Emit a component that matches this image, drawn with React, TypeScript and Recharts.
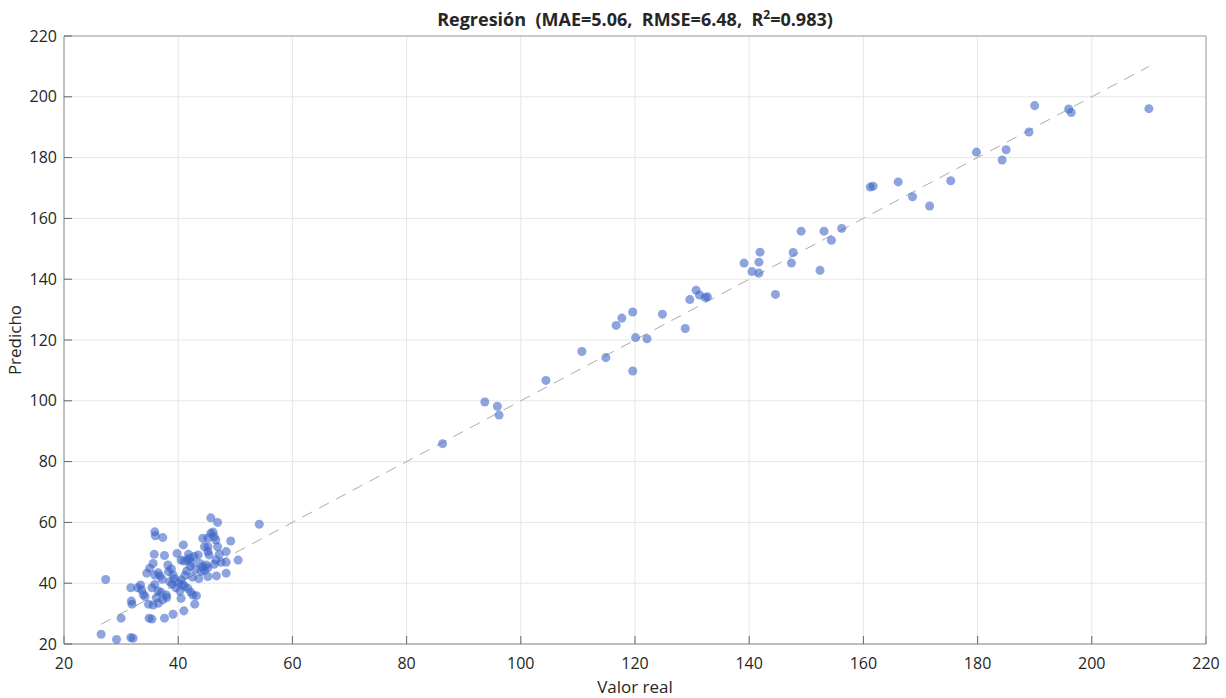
import {
  ScatterChart,
  Scatter,
  XAxis,
  YAxis,
  ZAxis,
  CartesianGrid,
  ReferenceLine,
} from "recharts";

// axis ticks (same scale both axes)
const axisTicks = [20, 40, 60, 80, 100, 120, 140, 160, 180, 200, 220];

// observed values
const realValues = [
  26.5, 27.3, 29.2, 30.0, 31.7, 32.1, 31.8, 31.9, 31.7, 32.9, 33.4, 33.6, 33.9, 34.2, 34.5, 34.8, 34.9,
  35.9, 36.0, 37.3, 35.8, 37.6, 40.9, 35.6, 35.0, 36.5, 35.9, 36.8, 38.2, 38.8, 38.3, 39.1, 40.5,
  41.0, 41.6, 42.0, 42.3, 39.8, 43.5, 44.3, 44.6, 43.8, 44.3, 44.0, 38.5, 38.9, 35.9, 35.4, 36.5,
  37.0, 40.5, 40.8, 41.1, 41.7, 42.2, 42.6, 43.2, 40.3, 40.5, 37.9, 37.3, 36.5, 35.6, 42.9, 35.4,
  37.6, 39.1, 41.0, 45.7, 46.9, 54.2, 45.7, 46.1, 46.3, 45.2, 46.6, 46.9, 49.2, 45.2, 45.2, 45.4,
  47.2, 48.4, 46.6, 47.5, 48.4, 50.5, 44.9, 45.2, 46.3, 46.7, 48.4, 45.2, 41.5, 42.1, 43.0, 42.5,
  41.2, 40.0, 39.3, 43.6, 44.6, 42.8, 41.8, 37.2, 36.2, 38.0, 39.6,
  86.3, 93.7, 95.9, 96.2, 104.4, 110.7, 114.9, 116.7, 117.7, 119.6, 119.6, 120.1, 122.1, 124.8,
  128.8, 129.6, 130.7, 131.3, 132.3, 132.7, 139.1, 140.5, 141.7, 141.7, 141.9, 144.6, 147.4,
  147.7, 149.1, 152.4, 153.1, 154.4, 156.2, 161.2, 161.7, 166.1, 168.6, 171.6, 175.3, 179.8,
  184.3, 185.0, 189.0, 190.0, 195.95, 196.4, 210.0,
];

// model predictions
const predValues = [
  23.2, 41.2, 21.5, 28.5, 22.1, 21.9, 34.1, 33.1, 38.5, 38.5, 39.4, 37.8, 36.3, 35.6, 43.3, 33.1, 28.5,
  56.9, 55.6, 55.0, 49.5, 49.1, 52.6, 46.5, 44.9, 43.4, 42.7, 42.4, 46.0, 44.7, 43.8, 42.7, 47.6,
  47.3, 47.6, 48.2, 46.9, 49.8, 49.3, 54.8, 52.0, 46.5, 45.4, 43.8, 40.5, 39.6, 39.6, 38.5, 37.4,
  37.0, 41.1, 39.6, 38.9, 38.3, 37.0, 36.1, 35.9, 37.4, 35.0, 36.1, 34.5, 33.4, 32.8, 33.1, 28.2,
  28.5, 29.8, 30.9, 61.5, 60.0, 59.4, 56.4, 56.8, 55.3, 54.8, 54.2, 52.0, 53.9, 52.0, 50.4, 49.3,
  49.5, 50.4, 47.6, 46.9, 46.9, 47.6, 46.0, 45.1, 46.2, 42.4, 43.3, 42.2, 44.0, 45.6, 44.5, 42.0,
  42.6, 40.2, 41.5, 41.5, 44.2, 48.8, 49.5, 41.3, 35.2, 35.3, 38.5,
  85.9, 99.6, 98.2, 95.3, 106.7, 116.2, 114.2, 124.8, 127.2, 129.2, 109.8, 120.8, 120.4, 128.5,
  123.8, 133.3, 136.4, 134.8, 134.0, 134.2, 145.3, 142.5, 145.6, 142.0, 148.9, 135.0, 145.3,
  148.8, 155.8, 142.9, 155.8, 152.8, 156.7, 170.3, 170.6, 172.0, 167.1, 164.1, 172.4, 181.8,
  179.2, 182.6, 188.4, 197.1, 196.0, 194.8, 196.1,
];

const points = realValues.map((real, i) => ({ real, pred: predValues[i] }));
const lineStart = Math.min(...realValues);
const lineEnd = Math.max(...realValues);

const W = 1226;
const H = 698;
const FONT = "'Open Sans', 'Noto Sans', sans-serif";
const tickStyle = { fontFamily: FONT, fontSize: 16, fill: "#262626" };
const axisColor = "#8a8a8a";

export default function App() {
  return (
    <div
      style={{
        position: "absolute",
        left: 0,
        top: 0,
        width: W,
        height: H,
        background: "#fff",
        fontFamily: FONT,
        color: "#262626",
      }}
    >
      <ScatterChart
        width={W}
        height={H}
        margin={{ top: 35, right: 19, bottom: 14, left: 24 }}
      >
        <CartesianGrid stroke="#e6e6e6" strokeWidth={1} />
        <XAxis
          type="number"
          dataKey="real"
          domain={[20, 220]}
          ticks={axisTicks}
          allowDataOverflow
          height={40}
          tickSize={-8}
          tickMargin={22}
          tick={tickStyle}
          stroke={axisColor}
          axisLine={{ stroke: axisColor }}
          tickLine={{ stroke: "#666" }}
        />
        <XAxis
          xAxisId="top"
          orientation="top"
          type="number"
          domain={[20, 220]}
          ticks={axisTicks}
          height={1}
          tick={false}
          tickLine={false}
          axisLine={{ stroke: "#a0a0a0" }}
        />
        <YAxis
          type="number"
          dataKey="pred"
          domain={[20, 220]}
          ticks={axisTicks}
          allowDataOverflow
          width={40}
          tickSize={-8}
          tickMargin={15}
          tick={tickStyle}
          axisLine={{ stroke: axisColor }}
          tickLine={{ stroke: "#666" }}
        />
        <YAxis
          yAxisId="right"
          orientation="right"
          type="number"
          domain={[20, 220]}
          ticks={axisTicks}
          width={1}
          tickSize={-8}
          tick={false}
          axisLine={{ stroke: "#a0a0a0" }}
          tickLine={{ stroke: "#666" }}
        />
        <ZAxis range={[64, 64]} />
        <ReferenceLine
          segment={[
            { x: lineStart, y: lineStart },
            { x: lineEnd, y: lineEnd },
          ]}
          stroke="#ababab"
          strokeWidth={1}
          strokeDasharray="11 8"
        />
        <Scatter
          data={points}
          fill="#3b62c6"
          fillOpacity={0.58}
          isAnimationActive={false}
        />
      </ScatterChart>

      <div
        style={{
          position: "absolute",
          left: 64,
          top: 7,
          width: 1142,
          lineHeight: "24px",
          textAlign: "center",
          fontSize: 18,
          fontWeight: 700,
          whiteSpace: "pre",
        }}
      >
        {"Regresión  (MAE=5.06,  RMSE=6.48,  R"}
        <sup style={{ fontSize: 12, lineHeight: 0 }}>2</sup>
        {"=0.983)"}
      </div>
      <div
        style={{
          position: "absolute",
          left: 64,
          top: 676,
          width: 1142,
          lineHeight: "22px",
          textAlign: "center",
          fontSize: 17,
        }}
      >
        Valor real
      </div>
      <div
        style={{
          position: "absolute",
          left: 15 - 100,
          top: 340 - 11,
          width: 200,
          lineHeight: "22px",
          textAlign: "center",
          fontSize: 17,
          transform: "rotate(-90deg)",
        }}
      >
        Predicho
      </div>
    </div>
  );
}
